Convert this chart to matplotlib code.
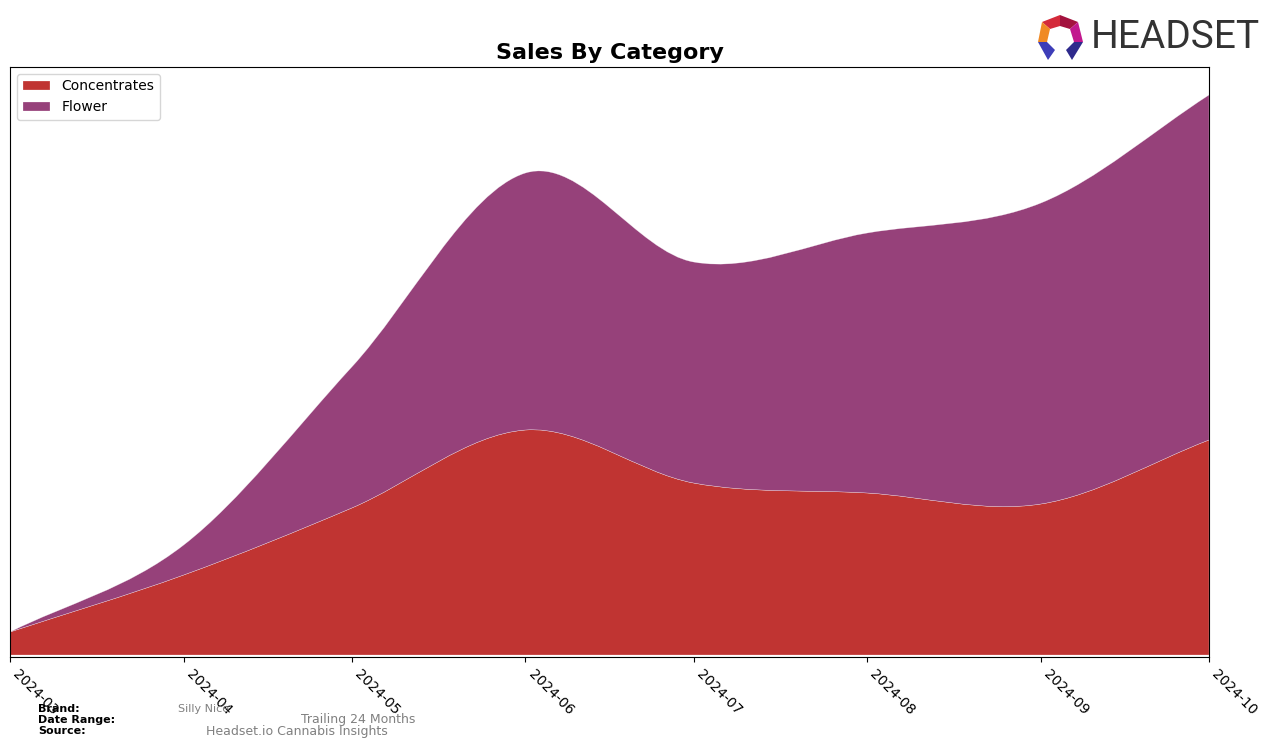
import numpy as np
import pandas as pd
import matplotlib
matplotlib.use("Agg")
import matplotlib.pyplot as plt
import matplotlib.dates as mdates
from matplotlib.path import Path
from matplotlib.patches import PathPatch, Polygon

# Data (arbitrary sales units)
months = ["2024-03", "2024-04", "2024-05", "2024-06", "2024-07", "2024-08", "2024-09", "2024-10"]
concentrates = [23, 80, 147, 225, 172, 162, 151, 215]
flower = [0, 30, 141, 257, 221, 260, 301, 345]

categories = ["Concentrates", "Flower"]
colors = ["#c03432", "#96417a"]

dates = pd.to_datetime([m + "-01" for m in months])
xs = mdates.date2num(dates)


def smooth(x, y):
    # cubic bezier chain through the points (drawing only)
    n = len(x)
    m = np.zeros(n)
    for i in range(n):
        lo, hi = max(i - 1, 0), min(i + 1, n - 1)
        m[i] = (y[hi] - y[lo]) / (x[hi] - x[lo])
    verts = [(x[0], y[0])]
    for i in range(n - 1):
        d = (x[i + 1] - x[i]) / 3
        verts += [(x[i] + d, y[i] + m[i] * d), (x[i + 1] - d, y[i + 1] - m[i + 1] * d), (x[i + 1], y[i + 1])]
    return verts


def band(x, lower, upper):
    top = smooth(x, upper)
    bot = smooth(x, lower)[::-1]
    verts = top + bot + [top[0]]
    codes = [Path.MOVETO] + [Path.CURVE4] * (len(top) - 1)
    codes += [Path.LINETO] + [Path.CURVE4] * (len(bot) - 1) + [Path.CLOSEPOLY]
    return Path(verts, codes)


fig = plt.figure(figsize=(12.76, 7.47), dpi=100)
ax = fig.add_axes([10 / 1276, 1 - 657 / 747, 1199 / 1276, 590 / 747])

c = np.array(concentrates, dtype=float)
f = np.array(flower, dtype=float)
zero = np.zeros_like(c)
layers = [(zero, c), (c, c + f)]
for (lo, hi), name, col in zip(layers, categories, colors):
    ax.add_patch(PathPatch(band(xs, lo, hi), facecolor=col, edgecolor=(1, 1, 1, 0.6),
                           linewidth=0.3, label=name))

total = c + f
ax.set_xlim(xs[0], xs[-1])
ax.set_ylim(-2, total.max() * 1.05)
ax.set_yticks([])
ax.set_xticks(xs)
ax.xaxis.set_major_formatter(mdates.DateFormatter("%Y-%m"))
plt.setp(ax.get_xticklabels(), rotation=-45, ha="left", fontsize=10)

ax.set_title("Sales By Category", fontsize=16, fontweight="bold", pad=6)
ax.legend(loc="upper left", fontsize=10)

# Footer
fig.text(38 / 1276, 1 - 709 / 747, "Brand:", fontsize=8, fontweight="bold", va="center")
fig.text(38 / 1276, 1 - 720 / 747, "Date Range:", fontsize=8, fontweight="bold", va="center")
fig.text(38 / 1276, 1 - 731 / 747, "Source:", fontsize=8, fontweight="bold", va="center")
fig.text(178 / 1276, 1 - 709 / 747, "Silly Nice", fontsize=8, color="gray", va="center")
fig.text(301 / 1276, 1 - 720 / 747, "Trailing 24 Months", fontsize=9, color="gray", va="center")
fig.text(206 / 1276, 1 - 731 / 747, "Headset.io Cannabis Insights", fontsize=9, color="gray", va="center")

# Logo
fig.text(1091 / 1276, 1 - 38 / 747, "HEADSET", fontsize=28, color="#333333", va="center",
         family=["Roboto", "DejaVu Sans"])


def px(pts):
    return [(x / 1276, 1 - y / 747) for x, y in pts]


logo_parts = [
    ([(1060, 15), (1060, 26), (1050, 29), (1042, 22)], "#d42a3a"),
    ([(1060, 15), (1078, 22), (1070, 29), (1060, 26)], "#a3123e"),
    ([(1078, 22), (1083, 42), (1074, 42), (1070, 29)], "#c2188e"),
    ([(1042, 22), (1050, 29), (1047, 42), (1038, 42)], "#f08a24"),
    ([(1038, 42), (1047, 42), (1055, 50), (1048, 60)], "#3d3db8"),
    ([(1083, 42), (1074, 42), (1066, 50), (1072, 60)], "#2e2a8c"),
]
for pts, col in logo_parts:
    fig.add_artist(Polygon(px(pts), closed=True, facecolor=col, edgecolor="none",
                           transform=fig.transFigure))

fig.savefig("out.png", dpi=100)
